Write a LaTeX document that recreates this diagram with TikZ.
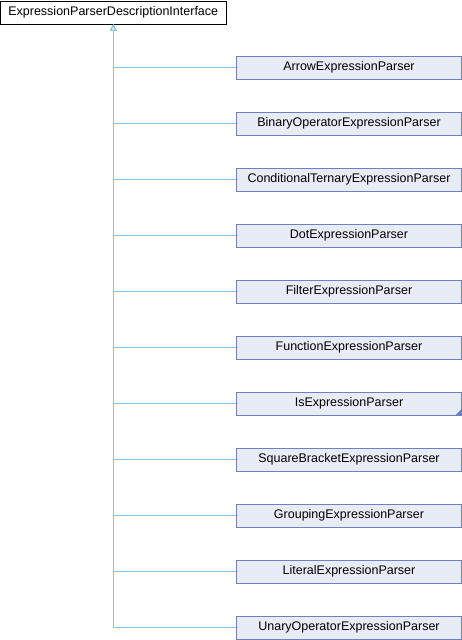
\documentclass[tikz,border=0pt]{standalone}
\usepackage{fontspec}
\setmainfont{Liberation Sans}
\usetikzlibrary{arrows.meta}
\definecolor{boxfill}{HTML}{E8ECF6}
\definecolor{boxdraw}{HTML}{6E80C4}
\definecolor{linkcol}{HTML}{87C4E6}
\tikzset{
  cls/.style={draw=boxdraw, fill=boxfill, line width=1pt, minimum width=225pt, minimum height=23pt, inner sep=0pt, font=\fontsize{12.5pt}{14pt}\selectfont},
  topcls/.style={draw=black, fill=white, line width=1pt, minimum width=225.5pt, minimum height=22.5pt, inner sep=0pt, font=\fontsize{12.5pt}{14pt}\selectfont},
  inh/.style={draw=linkcol, line width=1pt, -{Triangle[open,length=6pt,width=6pt,fill=white]}}
}
\begin{document}
\begin{tikzpicture}[x=1pt,y=1pt]
\useasboundingbox (0,0) rectangle (462,-640);
\node[topcls] (top) at (113.25,-12.75) {ExpressionParserDescriptionInterface};
\node[cls] (c0) at (349,-67.5) {ArrowExpressionParser};
\node[cls] (c1) at (349,-123.5) {BinaryOperatorExpressionParser};
\node[cls] (c2) at (349,-179.5) {ConditionalTernaryExpressionParser};
\node[cls] (c3) at (349,-235.5) {DotExpressionParser};
\node[cls] (c4) at (349,-291.5) {FilterExpressionParser};
\node[cls] (c5) at (349,-347.5) {FunctionExpressionParser};
\node[cls] (c6) at (349,-403.5) {IsExpressionParser};
\node[cls] (c7) at (349,-459.5) {SquareBracketExpressionParser};
\node[cls] (c8) at (349,-515.5) {GroupingExpressionParser};
\node[cls] (c9) at (349,-571.5) {LiteralExpressionParser};
\node[cls] (c10) at (349,-627.5) {UnaryOperatorExpressionParser};
\fill[boxdraw] (c6.south east) -- ++(0,7) -- ++(-7,-7) -- cycle;
\foreach \i in {0,...,10} {
  \draw[inh] (c\i.west) -| (top.south);
}
\end{tikzpicture}
\end{document}
